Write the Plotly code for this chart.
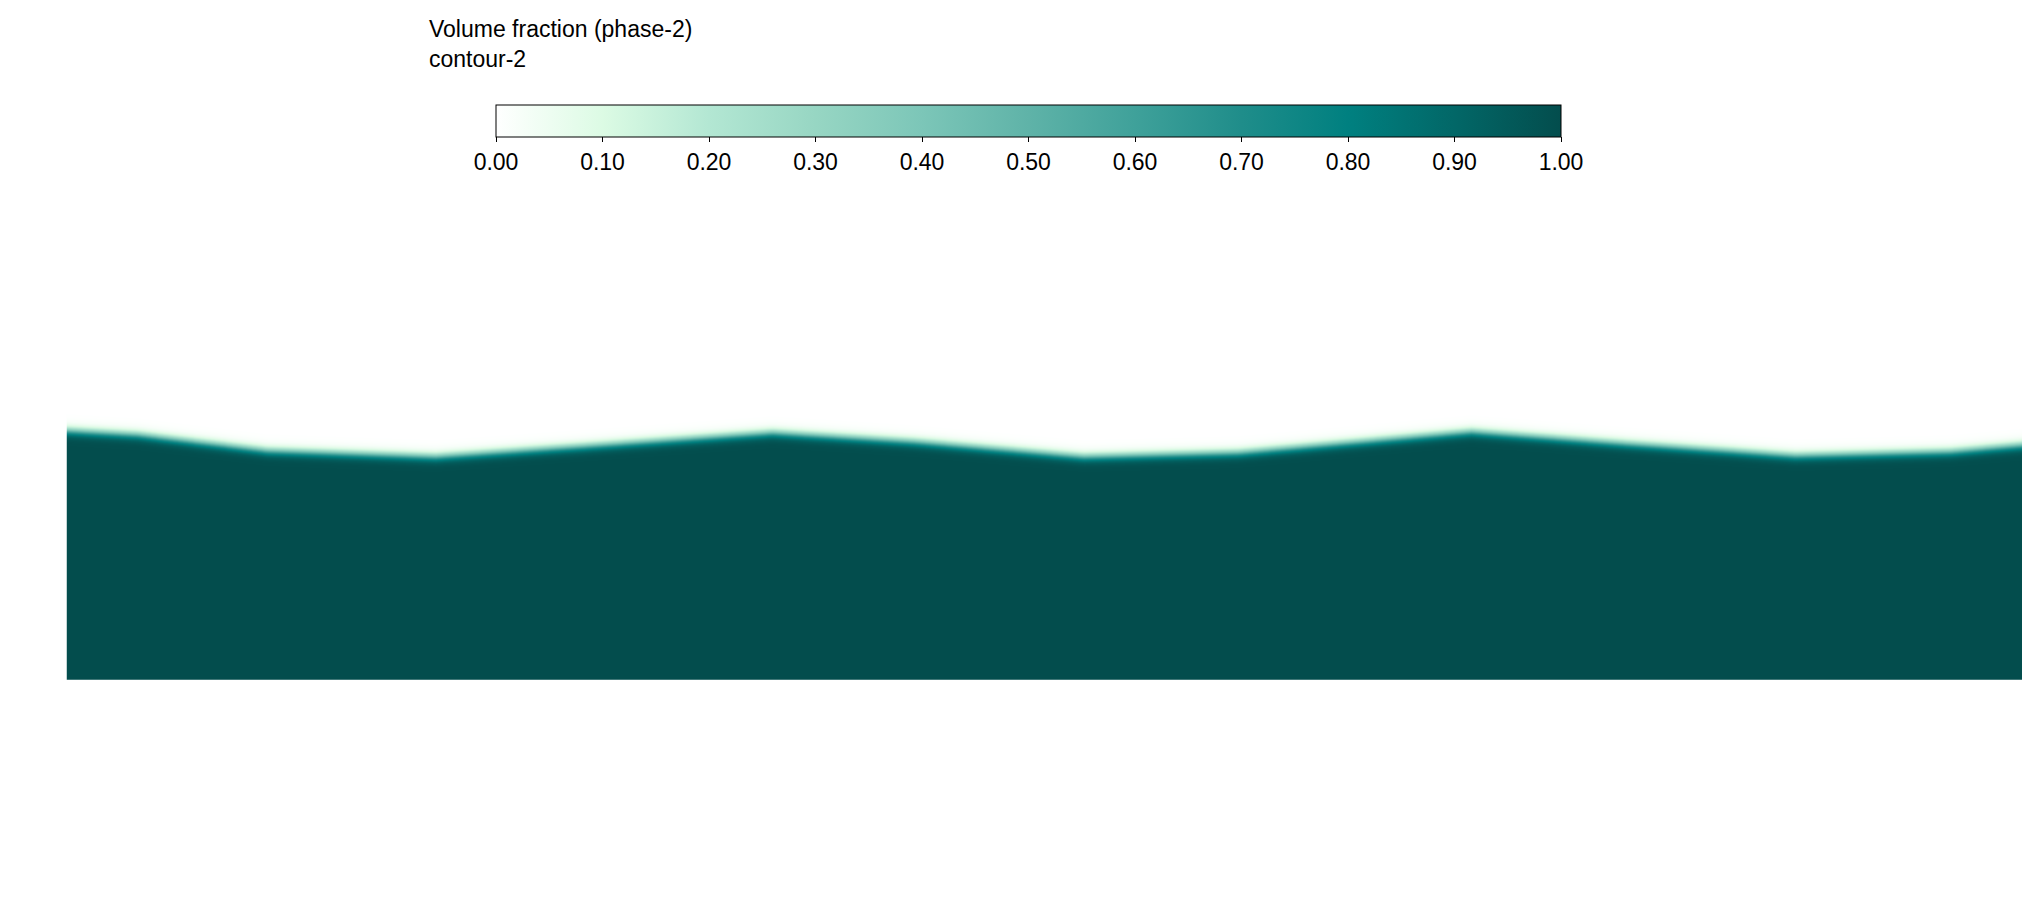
import numpy as np
import plotly.graph_objects as go

# interface profile (x, free-surface height), domain units
surface_x = [0.0, 0.69, 1.99, 3.67, 5.23, 7.04, 8.46, 10.15, 11.70, 14.03, 15.58, 17.27, 18.82, 19.7]
surface_y = [2.48, 2.44, 2.28, 2.22, 2.33, 2.46, 2.37, 2.22, 2.26, 2.47, 2.35, 2.23, 2.27, 2.35]
colorbar_ticks = [0.0, 0.1, 0.2, 0.3, 0.4, 0.5, 0.6, 0.7, 0.8, 0.9, 1.0]
colorbar_title = "Volume fraction (phase-2)<br>contour-2"

W, H = 2030, 912
xg = np.linspace(0, 19.7, 800)
yg = np.linspace(0, 2.7, 540)
h = np.interp(xg, surface_x, surface_y)
d = (h[None, :] - yg[:, None]) / 0.025
z = 1 / (1 + np.exp(-d))

cs = [[0.0, "#ffffff"], [0.1, "#dcfbe4"], [0.2, "#b3e7d3"], [0.3, "#97d6c3"],
      [0.4, "#7cc6b8"], [0.5, "#5fb3a8"], [0.6, "#3fa19a"], [0.7, "#1f8d8a"],
      [0.8, "#008080"], [0.9, "#026767"], [1.0, "#034d4d"]]

fig = go.Figure(go.Heatmap(
    x=xg, y=yg, z=z, zmin=0, zmax=1, colorscale=cs, zsmooth="best",
    colorbar=dict(orientation="h", lenmode="pixels", len=1085, thickness=32,
                  x=(478 + 1563) / 2 / W, xanchor="center", y=1 - 87 / H, yanchor="top",
                  tickvals=colorbar_ticks, ticktext=[f"{t:.2f}" for t in colorbar_ticks],
                  ticks="outside", ticklen=5, tickcolor="black",
                  outlinecolor="black", outlinewidth=1,
                  tickfont=dict(family="Liberation Sans, Arial", size=23, color="black")),
))
fig.add_annotation(text=colorbar_title, xref="paper", yref="paper", x=419 / W, y=1 - 6 / H,
                   xanchor="left", yanchor="top", showarrow=False, align="left",
                   font=dict(family="Liberation Sans, Arial", size=23, color="black"))
x0 = -0.60
fig.update_layout(
    width=W, height=H, margin=dict(l=0, r=0, t=0, b=0),
    paper_bgcolor="white", plot_bgcolor="white",
    xaxis=dict(range=[x0, x0 + W / 100], visible=False),
    yaxis=dict(range=[(671 - H) / 100, 6.71], visible=False),
)
fig.write_html("out.html")
